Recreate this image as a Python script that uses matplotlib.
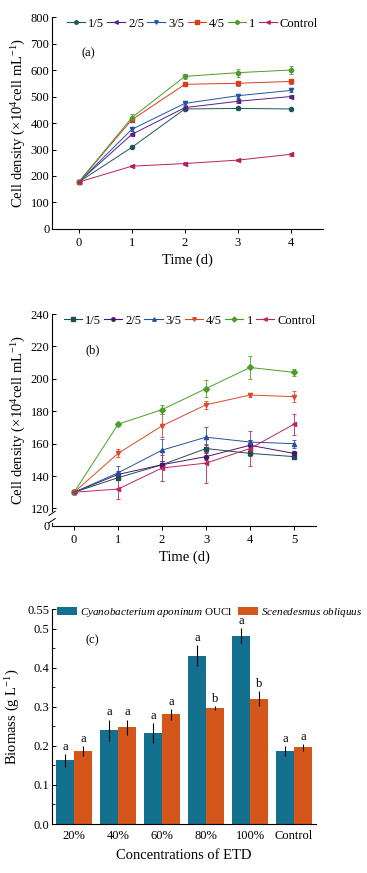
import numpy as np
import matplotlib
matplotlib.use('Agg')
import matplotlib.pyplot as plt
from matplotlib.lines import Line2D

plt.rcParams['font.family'] = ['Liberation Serif', 'DejaVu Serif']
plt.rcParams['mathtext.fontset'] = 'custom'
plt.rcParams['mathtext.rm'] = 'Liberation Serif'
plt.rcParams['mathtext.it'] = 'Liberation Serif:italic'

# ---- data ----
series_names = ['1/5', '2/5', '3/5', '4/5', '1', 'Control']

days_a = [0, 1, 2, 3, 4]
dens_a = {
    '1/5': [177, 308, 453, 455, 453],
    '2/5': [177, 357, 458, 482, 500],
    '3/5': [177, 376, 474, 503, 523],
    '4/5': [177, 412, 546, 550, 557],
    '1': [177, 420, 576, 590, 600],
    'Control': [177, 237, 247, 260, 282],
}
err_a = {
    '1/5': [3, 4, 5, 6, 4],
    '2/5': [3, 5, 6, 8, 6],
    '3/5': [3, 6, 6, 8, 6],
    '4/5': [3, 8, 8, 10, 10],
    '1': [3, 14, 10, 15, 15],
    'Control': [3, 4, 4, 4, 6],
}

days_b = [0, 1, 2, 3, 4, 5]
dens_b = {
    '1/5': [130, 139, 147, 157, 154, 152],
    '2/5': [130, 141, 147, 152, 159, 154],
    '3/5': [130, 142, 156, 164, 161, 160],
    '4/5': [130, 154, 171, 184, 190, 189],
    '1': [130, 172, 181, 194, 207, 204],
    'Control': [130, 132, 145, 148, 157, 172],
}
err_b = {
    '1/5': [0.5, 1.5, 2, 2, 1.5, 1],
    '2/5': [0.5, 2, 2, 2, 3, 1.5],
    '3/5': [0.5, 4, 7, 6.5, 1.5, 2.5],
    '4/5': [0.5, 2.5, 7, 2.5, 1, 3.5],
    '1': [0.5, 1, 3, 5, 7, 2],
    'Control': [0.5, 6, 8, 12, 11, 6.5],
}

conc = ['20%', '40%', '60%', '80%', '100%', 'Control']
bio_cyano = [0.163, 0.240, 0.233, 0.430, 0.482, 0.186]
bio_cyano_err = [0.016, 0.027, 0.025, 0.027, 0.020, 0.013]
bio_scen = [0.186, 0.247, 0.281, 0.296, 0.321, 0.196]
bio_scen_err = [0.013, 0.020, 0.014, 0.005, 0.018, 0.008]
letters_cyano = ['a', 'a', 'a', 'a', 'a', 'a']
letters_scen = ['a', 'a', 'a', 'b', 'b', 'a']

# ---- styles ----
colors_a = ['#1e5656', '#5a1f85', '#1f56a5', '#d83d1f', '#4d9a2e', '#b81f5f']
markers_a = ['o', '<', 'v', 's', 'o', '<']
colors_b = ['#1e4f4f', '#4b1470', '#2850a0', '#d84a28', '#4a9e2a', '#c0265e']
markers_b = ['s', 'o', '^', 'v', 'D', '<']
c_cyano = '#13708f'
c_scen = '#d4561a'

fs_tick = 9
fs_label = 10.5
ylab = 'Cell density (×10$^{4}$cell mL$^{-1}$)'

fig = plt.figure(figsize=(3.67, 8.73), dpi=100)


def style_axes(ax):
    ax.spines['top'].set_visible(False)
    ax.spines['right'].set_visible(False)
    ax.spines['left'].set_linewidth(0.8)
    ax.spines['bottom'].set_linewidth(0.8)
    ax.tick_params(axis='y', direction='in', length=3, width=0.7, labelsize=fs_tick, pad=2)
    ax.tick_params(axis='x', direction='out', length=3, width=0.7, labelsize=fs_tick, pad=3)


def line_legend(ax, colors, markers, x0):
    handles = [Line2D([], [], color=c, marker=m, markersize=2.5, lw=0.8)
               for c, m in zip(colors, markers)]
    ax.legend(handles, series_names, loc='upper left', bbox_to_anchor=(x0, 1.02),
              ncol=6, frameon=False, fontsize=fs_tick, handlelength=1.45,
              handletextpad=0.25, columnspacing=0.25, borderaxespad=0)


# ---- panel (a) ----
ax1 = fig.add_axes([0.142, 0.7377, 0.738, 0.2428])
for name, c, m in zip(series_names, colors_a, markers_a):
    ax1.errorbar(days_a, dens_a[name], yerr=err_a[name], color=c, marker=m,
                 markersize=3, lw=0.7, elinewidth=0.6, capsize=1.5, capthick=0.6)
ax1.set_xlim(-0.5, 4.6)
ax1.set_ylim(0, 800)
ax1.set_xticks(days_a)
ax1.set_yticks(np.arange(0, 801, 100))
style_axes(ax1)
ax1.set_xlabel('Time (d)', fontsize=fs_label, labelpad=3)
ax1.set_ylabel(ylab, fontsize=fs_label, labelpad=2)
ax1.text(0.05, 650, '(a)', fontsize=fs_tick)
line_legend(ax1, colors_a, markers_a, 0.035)

# ---- panel (b) ----
ax2 = fig.add_axes([0.142, 0.3975, 0.719, 0.2428])
for name, c, m in zip(series_names, colors_b, markers_b):
    ax2.errorbar(days_b, dens_b[name], yerr=err_b[name], color=c, marker=m,
                 markersize=3, lw=0.7, elinewidth=0.6, capsize=1.5, capthick=0.6)
y_zero = 109.2
ax2.set_xlim(-0.5, 5.5)
ax2.set_ylim(y_zero, 240)
ax2.set_xticks(days_b)
ax2.set_yticks([y_zero] + list(range(120, 241, 20)))
ax2.set_yticklabels(['0'] + [str(v) for v in range(120, 241, 20)])
style_axes(ax2)
ax2.set_xlabel('Time (d)', fontsize=fs_label, labelpad=3)
ax2.set_ylabel(ylab, fontsize=fs_label, labelpad=2)
ax2.text(0.25, 216, '(b)', fontsize=fs_tick)
line_legend(ax2, colors_b, markers_b, 0.025)
# axis break mark
trans = ax2.get_yaxis_transform()
ax2.plot([0, 0], [112.5, 117], transform=trans, color='white', lw=2, clip_on=False, zorder=5)
for yb in (112.5, 117):
    ax2.plot([-0.012, 0.012], [yb - 1.3, yb + 1.3], transform=trans, color='black',
             lw=0.7, clip_on=False, zorder=6)

# ---- panel (c) ----
ax3 = fig.add_axes([0.142, 0.0561, 0.719, 0.2463])
x = np.arange(len(conc))
w = 0.41
ax3.bar(x - w / 2, bio_cyano, w, yerr=bio_cyano_err, color=c_cyano,
        error_kw=dict(elinewidth=0.8, capsize=0, ecolor='black'),
        label='$\\it{Cyanobacterium\\ aponinum}$ OUCl')
ax3.bar(x + w / 2, bio_scen, w, yerr=bio_scen_err, color=c_scen,
        error_kw=dict(elinewidth=0.8, capsize=0, ecolor='black'),
        label='$\\it{Scenedesmus\\ obliquus}$')
for i in range(len(conc)):
    ax3.text(x[i] - w / 2, bio_cyano[i] + bio_cyano_err[i] + 0.003, letters_cyano[i],
             ha='center', va='bottom', fontsize=fs_tick)
    ax3.text(x[i] + w / 2, bio_scen[i] + bio_scen_err[i] + 0.003, letters_scen[i],
             ha='center', va='bottom', fontsize=fs_tick)
ax3.set_xlim(-0.5, 5.5)
ax3.set_ylim(0, 0.55)
ax3.set_xticks(x)
ax3.set_xticklabels(conc)
yt = [0.0, 0.1, 0.2, 0.3, 0.4, 0.5, 0.55]
ax3.set_yticks(yt)
ax3.set_yticklabels(['0.0', '0.1', '0.2', '0.3', '0.4', '0.5', '0.55'])
ax3.set_yticks(np.arange(0.05, 0.5, 0.1), minor=True)
style_axes(ax3)
ax3.tick_params(axis='y', which='minor', direction='in', length=2, width=0.6)
ax3.tick_params(axis='x', length=0, pad=4)
ax3.set_xlabel('Concentrations of ETD', fontsize=fs_label, labelpad=5)
ax3.set_ylabel('Biomass (g L$^{-1}$)', fontsize=fs_label, labelpad=4)
ax3.text(0.25, 0.463, '(c)', fontsize=fs_tick)
ax3.legend(loc='upper left', bbox_to_anchor=(0.0, 1.035), ncol=2, frameon=False,
           fontsize=8, handlelength=1.8, handleheight=0.75, handletextpad=0.27,
           columnspacing=0.55, borderaxespad=0)

fig.savefig('out.png', dpi=100)
